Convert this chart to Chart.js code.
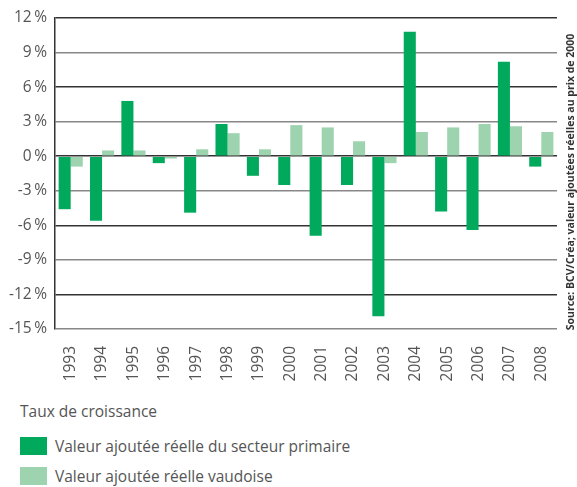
<!DOCTYPE html>
<html>
<head>
<meta charset="utf-8">
<script src="https://cdn.jsdelivr.net/npm/chart.js@4"></script>
<style>
  body { margin: 0; background: #fff; font-family: "Open Sans", sans-serif; color: #555; }
  #wrap { position: relative; width: 577px; height: 392px; }
  #legende { position: absolute; left: 20px; top: 399px; font-size: 15.5px; }
  #legende .titre { height: 32px; line-height: 24px; }
  #legende .item { display: flex; align-items: center; height: 30px; }
  #legende .boite { width: 27px; height: 18px; margin-right: 8px; }
</style>
</head>
<body>
<div id="wrap"><canvas id="graph"></canvas></div>
<div id="legende"></div>
<script>
const annees = ["1993", "1994", "1995", "1996", "1997", "1998", "1999", "2000",
  "2001", "2002", "2003", "2004", "2005", "2006", "2007", "2008"];
const primaire = [-4.6, -5.6, 4.8, -0.6, -4.9, 2.8, -1.7, -2.5, -6.9, -2.5, -13.9, 10.8, -4.8, -6.4, 8.2, -0.9];
const vaudoise = [-0.9, 0.5, 0.5, -0.2, 0.6, 2.0, 0.6, 2.7, 2.5, 1.3, -0.6, 2.1, 2.5, 2.8, 2.6, 2.1];
const titreLegende = "Taux de croissance";
const source = "Source: BCV/Créa; valeur ajoutées réelles au prix de 2000";

const vert = "#00a95c";
const vertClair = "#9dd3ae";

// texte vertical à droite
const sourcePlugin = {
  id: "source",
  afterDraw(chart) {
    const ctx = chart.ctx;
    ctx.save();
    ctx.translate(571, 182);
    ctx.rotate(-Math.PI / 2);
    ctx.font = "bold 10.5px 'Open Sans'";
    ctx.fillStyle = "#333";
    ctx.textAlign = "center";
    ctx.textBaseline = "middle";
    ctx.fillText(source, 0, 0);
    ctx.restore();
  }
};

const data = {
  labels: annees,
  datasets: [
    { label: "Valeur ajoutée réelle du secteur primaire", data: primaire, backgroundColor: vert },
    { label: "Valeur ajoutée réelle vaudoise", data: vaudoise, backgroundColor: vertClair }
  ]
};

const config = {
  type: "bar",
  data: data,
  options: {
    responsive: true,
    maintainAspectRatio: false,
    animation: false,
    datasets: { bar: { categoryPercentage: 0.77, barPercentage: 1.0 } },
    layout: { padding: { top: 18, right: 20, left: 0, bottom: 0 } },
    plugins: { legend: { display: false }, tooltip: { enabled: false } },
    scales: {
      x: {
        grid: { display: false },
        border: { display: false },
        ticks: {
          autoSkip: false, minRotation: 90, maxRotation: 90,
          color: "#555", font: { family: "Open Sans", size: 15.5 }, padding: 9
        },
        afterFit: (scale) => { scale.height = 63; }
      },
      y: {
        min: -15, max: 12,
        border: { display: true, color: "#333", width: 1.5 },
        grid: {
          drawTicks: false,
          lineWidth: 1.5,
          color: (c) => (Math.round(c.tick.value / 3) % 2 === 0 ? "#333" : "#888")
        },
        ticks: {
          stepSize: 3, padding: 8,
          color: "#555", font: { family: "Open Sans", size: 15.5 },
          callback: (v) => v + "\u2009%"
        },
        afterFit: (scale) => { scale.width = 55; }
      }
    }
  },
  plugins: [sourcePlugin]
};

const graph = new Chart(document.getElementById("graph"), config);

// légende
const leg = document.getElementById("legende");
let html = '<div class="titre">' + titreLegende + '</div>';
data.datasets.forEach((d) => {
  html += '<div class="item"><span class="boite" style="background:' + d.backgroundColor + '"></span>' + d.label + '</div>';
});
leg.innerHTML = html;
</script>
</body>
</html>
